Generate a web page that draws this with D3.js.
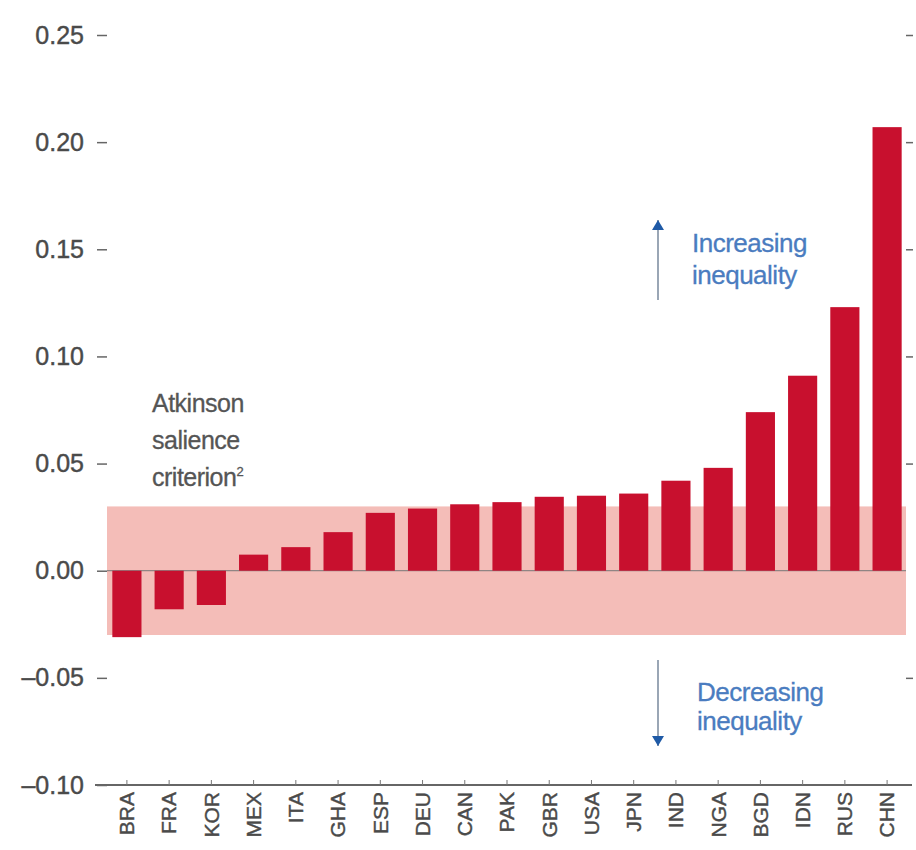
<!DOCTYPE html>
<html>
<head>
<meta charset="utf-8">
<script src="https://cdn.jsdelivr.net/npm/d3@7"></script>
<style>
  body { margin: 0; background: #fff; }
  svg text { font-family: "Liberation Sans", Arial, sans-serif; }
</style>
</head>
<body>
<div id="chart"></div>
<script>
const countries = ['BRA', 'FRA', 'KOR', 'MEX', 'ITA', 'GHA', 'ESP', 'DEU', 'CAN', 'PAK',
  'GBR', 'USA', 'JPN', 'IND', 'NGA', 'BGD', 'IDN', 'RUS', 'CHN'];
const values = [-0.031, -0.018, -0.016, 0.0075, 0.011, 0.018, 0.027, 0.029, 0.031, 0.032,
  0.0345, 0.035, 0.036, 0.042, 0.048, 0.074, 0.091, 0.123, 0.207];
const yTicks = [-0.10, -0.05, 0, 0.05, 0.10, 0.15, 0.20, 0.25];
const salienceBand = [-0.03, 0.03];
const noteLines = ['Atkinson', 'salience', 'criterion'];

const width = 916;
const height = 850;
const plot = { left: 107, right: 906, top: 35, bottom: 785 };

const svg = d3.select('#chart')
  .append('svg')
  .attr('width', width)
  .attr('height', height);

const x = d3.scaleBand()
  .domain(countries)
  .range([plot.left - 1, plot.right + 2])
  .paddingInner(0.31)
  .paddingOuter(0.15);

const y = d3.scaleLinear()
  .domain([-0.10, 0.25])
  .range([plot.bottom, plot.top]);

const fmt = (d) => (d < 0 ? '\u2013' : '') + Math.abs(d).toFixed(2);

// salience band
svg.append('rect')
  .attr('x', plot.left)
  .attr('y', y(salienceBand[1]))
  .attr('width', plot.right - plot.left)
  .attr('height', y(salienceBand[0]) - y(salienceBand[1]))
  .attr('fill', '#f4bdb8');

// zero line
svg.append('line')
  .attr('x1', plot.left)
  .attr('x2', plot.right)
  .attr('y1', y(0))
  .attr('y2', y(0))
  .attr('stroke', '#777')
  .attr('stroke-width', 1);

// bars
svg.selectAll('.bar')
  .data(values)
  .enter()
  .append('rect')
  .attr('class', 'bar')
  .attr('x', (d, i) => x(countries[i]))
  .attr('width', x.bandwidth())
  .attr('y', (d) => y(Math.max(0, d)))
  .attr('height', (d) => Math.abs(y(d) - y(0)))
  .attr('fill', '#c8102e');

// left axis
const yAxis = d3.axisLeft(y).tickValues(yTicks).tickSize(10).tickPadding(13).tickFormat(fmt);
const gy = svg.append('g')
  .attr('transform', 'translate(' + plot.left + ',0)')
  .call(yAxis);
gy.select('.domain').remove();
gy.selectAll('line').attr('stroke', '#666').attr('stroke-width', 1.5);
gy.selectAll('text').attr('fill', '#4a4a4a').style('font-size', '25px')
  .attr('stroke', '#4a4a4a').attr('stroke-width', 0.4);

// right axis, ticks only
const gr = svg.append('g')
  .attr('transform', 'translate(' + plot.right + ',0)')
  .call(d3.axisRight(y).tickValues(yTicks.filter((d) => d !== -0.10 && d !== 0)).tickSize(7).tickFormat(''));
gr.select('.domain').remove();
gr.selectAll('line').attr('stroke', '#666').attr('stroke-width', 1.5);

// bottom axis
const xAxis = d3.axisBottom(x).tickSize(-5).tickPadding(9);
const gx = svg.append('g')
  .attr('transform', 'translate(0,' + plot.bottom + ')')
  .call(xAxis);
gx.select('.domain')
  .attr('d', 'M' + (plot.left - 12) + ',0H' + (plot.right + 6))
  .attr('stroke', '#666')
  .attr('stroke-width', 2);
gx.selectAll('.tick line').attr('stroke', '#777');
gx.selectAll('.tick text')
  .attr('fill', '#4a4a4a')
  .attr('stroke', '#4a4a4a')
  .attr('stroke-width', 0.4)
  .style('font-size', '21px')
  .attr('transform', 'rotate(-90)')
  .attr('text-anchor', 'end')
  .attr('dx', 0)
  .attr('dy', '0.35em')
  .attr('y', 0)
  .attr('x', -7);

// Atkinson note
const note = svg.append('text')
  .attr('x', 152)
  .attr('y', 412)
  .attr('fill', '#555')
  .attr('stroke', '#555')
  .attr('stroke-width', 0.3)
  .style('font-size', '25px')
  .style('letter-spacing', '-0.5px');
noteLines.forEach((t, i) => {
  note.append('tspan').attr('x', 152).attr('dy', i === 0 ? 0 : 37).text(t);
  if (i === noteLines.length - 1) {
    note.append('tspan').attr('dy', -10).style('font-size', '13px').text('2');
  }
});

// direction arrows
const arrowColor = '#1f5aa6';
const shaftColor = '#9aa6b5';
function arrow(x0, yFrom, yTo) {
  svg.append('line')
    .attr('x1', x0).attr('x2', x0)
    .attr('y1', yFrom).attr('y2', yTo)
    .attr('stroke', shaftColor)
    .attr('stroke-width', 2);
  const dir = yTo < yFrom ? -1 : 1;
  svg.append('path')
    .attr('d', 'M' + (x0 - 6) + ',' + (yTo - dir * 10) + 'L' + x0 + ',' + yTo + 'L' + (x0 + 6) + ',' + (yTo - dir * 10) + 'Z')
    .attr('fill', arrowColor);
}
arrow(658, 300, 220);
arrow(658, 660, 746);

const blueText = '#4a7cc0';
const blueLines = [
  { x: 692, y: 252, t: 'Increasing' },
  { x: 692, y: 284, t: 'inequality' },
  { x: 697, y: 701, t: 'Decreasing' },
  { x: 697, y: 730, t: 'inequality' },
];
svg.selectAll('.dir-label')
  .data(blueLines)
  .enter()
  .append('text')
  .attr('class', 'dir-label')
  .attr('x', (d) => d.x)
  .attr('y', (d) => d.y)
  .attr('fill', blueText)
  .attr('stroke', blueText)
  .attr('stroke-width', 0.3)
  .style('font-size', '26px')
  .style('letter-spacing', '-0.5px')
  .text((d) => d.t);
</script>
</body>
</html>
